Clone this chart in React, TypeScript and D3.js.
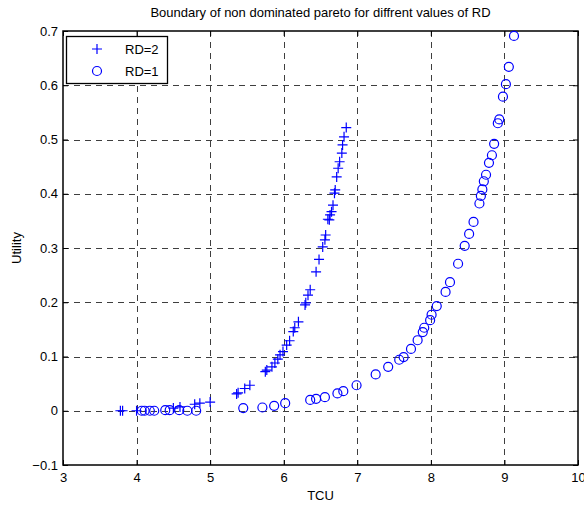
import React, { useEffect, useRef } from "react";
import * as d3 from "d3";

// RD=2 front (plus markers)
const rd2TCU = [3.78, 3.81, 4.0, 4.5, 4.59, 4.79, 4.86, 5.0, 5.36, 5.38, 5.47, 5.54, 5.75, 5.77, 5.84, 5.88, 5.92, 5.95, 5.99, 6.04, 6.08, 6.13, 6.15, 6.2, 6.29, 6.3, 6.33, 6.36, 6.44, 6.48, 6.53, 6.56, 6.57, 6.6, 6.62, 6.63, 6.65, 6.67, 6.69, 6.7, 6.72, 6.74, 6.76, 6.79, 6.8, 6.82, 6.85];
const rd2Util = [0.0, 0.0, 0.0, 0.005, 0.007, 0.012, 0.014, 0.016, 0.031, 0.033, 0.041, 0.047, 0.072, 0.075, 0.081, 0.088, 0.095, 0.103, 0.109, 0.121, 0.129, 0.146, 0.153, 0.164, 0.195, 0.199, 0.213, 0.223, 0.256, 0.279, 0.302, 0.315, 0.324, 0.353, 0.352, 0.361, 0.367, 0.379, 0.401, 0.407, 0.431, 0.447, 0.459, 0.475, 0.49, 0.505, 0.522];

// RD=1 front (circle markers)
const rd1TCU = [4.07, 4.11, 4.18, 4.24, 4.39, 4.45, 4.58, 4.69, 4.81, 5.45, 5.71, 5.87, 6.02, 6.36, 6.44, 6.56, 6.73, 6.81, 6.99, 7.25, 7.42, 7.57, 7.63, 7.73, 7.82, 7.89, 7.91, 7.99, 8.01, 8.08, 8.2, 8.26, 8.37, 8.46, 8.52, 8.58, 8.66, 8.68, 8.7, 8.72, 8.75, 8.79, 8.83, 8.86, 8.91, 8.93, 8.98, 9.02, 9.06, 9.13];
const rd1Util = [0.0, 0.0, 0.0, 0.0, 0.001, 0.001, 0.001, 0.0, 0.0, 0.005, 0.006, 0.009, 0.014, 0.02, 0.022, 0.025, 0.032, 0.036, 0.047, 0.067, 0.081, 0.094, 0.099, 0.114, 0.13, 0.145, 0.153, 0.167, 0.177, 0.193, 0.219, 0.237, 0.271, 0.304, 0.326, 0.348, 0.382, 0.396, 0.408, 0.423, 0.435, 0.457, 0.471, 0.492, 0.53, 0.537, 0.579, 0.602, 0.634, 0.691];

const xTicks = [3, 4, 5, 6, 7, 8, 9, 10];
const yTicks = [-0.1, 0, 0.1, 0.2, 0.3, 0.4, 0.5, 0.6, 0.7];
const legendLabels = ["RD=2", "RD=1"];

const W = 584;
const H = 508;
const left = 63, right = 578, top = 31, bottom = 465;
const blue = "#0000ff";
const font = "Liberation Sans, Arial, sans-serif";

const App = () => {
  const ref = useRef(null);

  useEffect(() => {
    const svg = d3.select(ref.current);
    svg.selectAll("*").remove();

    const x = d3.scaleLinear().domain([3, 10]).range([left, right]);
    const y = d3.scaleLinear().domain([-0.1, 0.7]).range([bottom, top]);

    svg.append("rect").attr("width", W).attr("height", H).attr("fill", "#fff");

    // grid
    const grid = svg.append("g").attr("stroke", "#000").attr("stroke-width", 1)
      .attr("stroke-dasharray", "6,5").attr("opacity", 0.75);
    xTicks.slice(1, -1).forEach(t => {
      grid.append("line").attr("x1", Math.round(x(t)) + 0.5).attr("x2", Math.round(x(t)) + 0.5)
        .attr("y1", top).attr("y2", bottom);
    });
    yTicks.slice(1, -1).forEach(t => {
      grid.append("line").attr("y1", Math.round(y(t)) + 0.5).attr("y2", Math.round(y(t)) + 0.5)
        .attr("x1", left).attr("x2", right);
    });

    // axes (ticks inside)
    const xb = svg.append("g").attr("transform", `translate(0,${bottom})`)
      .call(d3.axisBottom(x).tickValues(xTicks).tickSizeInner(-5).tickSizeOuter(0).tickPadding(8).tickFormat(d3.format("d")));
    const xt = svg.append("g").attr("transform", `translate(0,${top})`)
      .call(d3.axisTop(x).tickValues(xTicks).tickSizeInner(-5).tickSizeOuter(0).tickFormat(() => ""));
    const yl = svg.append("g").attr("transform", `translate(${left},0)`)
      .call(d3.axisLeft(y).tickValues(yTicks).tickSizeInner(-5).tickSizeOuter(0).tickPadding(5).tickFormat(d => (d === 0 ? "0" : d3.format("")(+d.toFixed(1)))));
    const yr = svg.append("g").attr("transform", `translate(${right},0)`)
      .call(d3.axisRight(y).tickValues(yTicks).tickSizeInner(-5).tickSizeOuter(0).tickFormat(() => ""));
    [xb, xt, yl, yr].forEach(g => {
      g.select(".domain").remove();
      g.selectAll("line").attr("stroke", "#000");
      g.selectAll("text").attr("fill", "#000").style("font-family", font).style("font-size", "13px");
    });

    svg.append("rect").attr("x", left).attr("y", top).attr("width", right - left).attr("height", bottom - top)
      .attr("fill", "none").attr("stroke", "#000").attr("stroke-width", 1.5);

    // RD=2 pluses
    const plus = (g, cx, cy) => {
      g.append("path").attr("d", `M${cx - 5},${cy}H${cx + 5}M${cx},${cy - 5}V${cy + 5}`)
        .attr("stroke", blue).attr("stroke-width", 1.2).attr("fill", "none");
    };
    const p2 = svg.append("g");
    rd2TCU.forEach((v, i) => plus(p2, x(v), y(rd2Util[i])));

    // RD=1 circles
    svg.append("g").selectAll("circle").data(rd1TCU).join("circle")
      .attr("cx", d => x(d)).attr("cy", (d, i) => y(rd1Util[i])).attr("r", 4.5)
      .attr("fill", "none").attr("stroke", blue).attr("stroke-width", 1.2);

    // legend
    const lg = svg.append("g");
    lg.append("rect").attr("x", 66.5).attr("y", 36.5).attr("width", 101).attr("height", 47)
      .attr("fill", "#fff").attr("stroke", "#000").attr("stroke-width", 1.3);
    plus(lg, 97, 49);
    lg.append("circle").attr("cx", 97).attr("cy", 71).attr("r", 4.5).attr("fill", "none").attr("stroke", blue).attr("stroke-width", 1.2);
    legendLabels.forEach((l, i) => {
      lg.append("text").attr("x", 125).attr("y", 49 + i * 22).attr("dy", "0.35em")
        .style("font-family", font).style("font-size", "13px").text(l);
    });

    // labels
    svg.append("text").attr("x", (left + right) / 2 + 0).attr("y", 17).attr("text-anchor", "middle")
      .style("font-family", font).style("font-size", "13px").text("Boundary of non dominated pareto for diffrent values of RD");
    svg.append("text").attr("x", (left + right) / 2).attr("y", 500).attr("text-anchor", "middle")
      .style("font-family", font).style("font-size", "13px").text("TCU");
    svg.append("text").attr("transform", `translate(21,${(top + bottom) / 2}) rotate(-90)`).attr("text-anchor", "middle")
      .style("font-family", font).style("font-size", "13px").text("Utility");
  }, []);

  return (
    <svg ref={ref} width={W} height={H} style={{ position: "absolute", left: 0, top: 0 }} />
  );
};

export default App;
